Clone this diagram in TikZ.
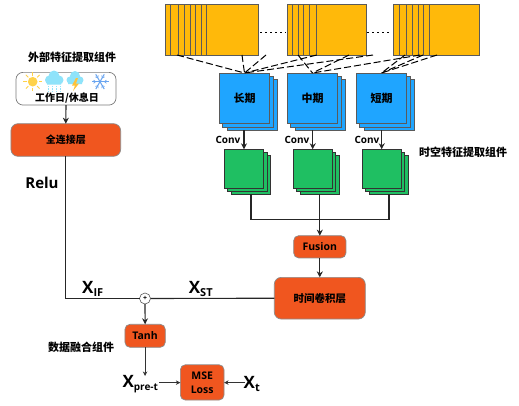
\documentclass[tikz,border=0pt]{standalone}
\usepackage{fontspec}
\setmainfont{Open Sans}
\newfontfamily\cjk{Noto Sans CJK SC}
\usetikzlibrary{arrows.meta}
\definecolor{yel}{HTML}{FFB90A}
\definecolor{blu}{HTML}{1FA5FF}
\definecolor{grn}{HTML}{1FBF62}
\definecolor{org}{HTML}{F0561F}
\definecolor{edge}{HTML}{5A5A5A}
\definecolor{cloudc}{HTML}{8FE3FA}
\definecolor{sunc}{HTML}{FFD24A}
\definecolor{snowc}{HTML}{6AA5F0}
\tikzset{
  yblock/.style={draw=edge,fill=yel,line width=.7pt,inner sep=0,outer sep=0},
  stripe/.style={draw=edge,line width=.7pt},
  card/.style={draw=edge,line width=.8pt,inner sep=0,outer sep=0,minimum width=#1,minimum height=#1,font=\cjk\bfseries\fontsize{11}{12}\selectfont},
  bluecard/.style={card=50.4pt,fill=blu},
  greencard/.style={draw=black!80,line width=.8pt,inner sep=0,outer sep=0,minimum width=39.3pt,minimum height=39pt,fill=grn},
  op/.style={draw=edge!70,fill=org,rounded corners=5pt,line width=.7pt,inner sep=0,outer sep=0,align=center,font=\bfseries\fontsize{10.5}{14}\selectfont},
  wire/.style={draw=black!85,line width=1.1pt},
  arrow/.style={wire,-{Stealth[length=6pt,width=6pt]}},
  thinarrow/.style={draw=black!80,line width=.8pt,-{Stealth[length=4.5pt,width=4.5pt]}},
  dashline/.style={draw=black,line width=1pt,dash pattern=on 7pt off 3pt},
  title/.style={font=\cjk\bfseries\fontsize{11}{12}\selectfont,inner sep=0},
  conv/.style={font=\bfseries\fontsize{10}{11}\selectfont,inner sep=0},
  bigx/.style={font=\bfseries\fontsize{17}{17}\selectfont,inner sep=0}
}
\begin{document}
\begin{tikzpicture}[x=1pt,y=-1pt]
\useasboundingbox (0,0) rectangle (519,405);
% yellow blocks
\node[yblock,minimum width=93pt,minimum height=51pt] (y1) at (211.5,29.5) {};
\foreach \s in {170.7,178.3,184.3,190.3,195.3,201,206.7} \draw[stripe] (\s,4) -- (\s,55);
\node[yblock,minimum width=79.4pt,minimum height=51pt] (y2) at (327,29.5) {};
\foreach \s in {292.3,298.3,303.7,309.3,316.3} \draw[stripe] (\s,4) -- (\s,55);
\node[yblock,minimum width=86.3pt,minimum height=51pt] (y3) at (436.2,29.5) {};
\foreach \s in {399.3,406.3,412.3,418,423.3,429.3} \draw[stripe] (\s,4) -- (\s,55);
\draw[line width=1pt,dash pattern=on 1.5pt off 3.5pt] (260,32) -- (286,32);
\draw[line width=1pt,dash pattern=on 1.5pt off 3.5pt] (367,32) -- (392,32);
% blue stacks
\foreach \n/\cx in {1/244.5,2/312.5,3/381.5}{
  \node[bluecard] (bb\n) at (\cx+8,105) {};
  \node[bluecard] (bm\n) at (\cx+3.5,102) {};
}
\node[bluecard] (b1) at (244.5,98.2) {长期};
\node[bluecard] (b2) at (312.5,98.2) {中期};
\node[bluecard] (b3) at (381.5,98.2) {短期};
% dashed fans
\foreach \n/\a/\t in {a/177/b1,b/242/b1,c/266/b1,d/316.7/b1,e/373/b1,f/298/b2,g/349/b2,h/420/b2,i/405/b3,j/423/b3,k/437/b3}{
  \coordinate (d\n) at (\a,55);
  \draw[dashline] (d\n) -- (\t.north);
}
% green stacks
\foreach \n/\cx in {1/244,2/312.7,3/381.7}{
  \node[greencard] (gb\n) at (\cx+7,174.8) {};
  \node[greencard] (gm\n) at (\cx+3.5,171.5) {};
}
\node[greencard] (g1) at (244,168.8) {};
\node[greencard] (g2) at (312.7,168.8) {};
\node[greencard] (g3) at (381.7,168.8) {};
% conv
\node[conv] at (228,140) {Conv};
\node[conv] at (297,140) {Conv};
\node[conv] at (367,140) {Conv};
\draw[arrow] (g1.north |- 0,130) -- (g1.north);
\draw[arrow] (g2.north |- 0,130) -- (g2.north);
\draw[arrow] (g3.north |- 0,130) -- (g3.north);
% fusion
\node[op,minimum width=52.3pt,minimum height=22.3pt] (fus) at (319.8,246.8) {Fusion};
\node[op,minimum width=91pt,minimum height=41.7pt,font=\cjk\bfseries\fontsize{10.5}{12}\selectfont,rounded corners=7pt] (tc) at (319.8,298.2) {时间卷积层};
\coordinate (j1) at (251,219.7);
\coordinate (j3) at (389,219.7);
\coordinate (j2) at (fus.north |- j1);
\draw[wire] (251,194.3) -- (j1) -- (j3) -- (389,194.3);
\draw[wire] (j2 |- gb2.south) -- (j2);
\draw[arrow] (j2) -- (fus.north);
\draw[arrow] (fus.south) -- (tc.north);
% external
\node[title] at (72,57) {外部特征提取组件};
\node[draw=edge!80,fill=white,rounded corners=7pt,line width=.7pt,inner sep=0,outer sep=0,minimum width=100pt,minimum height=32.7pt] (wx) at (66,88.7) {};
\node[font=\cjk\bfseries\fontsize{10}{11}\selectfont,inner sep=0] at (67,98.3) {工作日/休息日};
% sun
\fill[sunc] (32.7,81.7) circle (4.8pt);
\foreach \ang in {0,45,...,315} \draw[sunc,line width=.9pt] (32.7,81.7) ++(\ang:6.2pt) -- ++(\ang:3.5pt);
% rain cloud
\fill[cloudc] (49.5,80) circle (4.5pt) (54,76) circle (5.5pt) (59,80) circle (4.5pt) (47,80) rectangle (61,84.5);
\foreach \dx in {48,52,56,60} \draw[cloudc,line width=1pt,dash pattern=on 1.2pt off 1.2pt] (\dx,86) -- (\dx,92);
% storm cloud
\fill[cloudc] (70,80) circle (3.5pt) (75,76) circle (5pt) (80,80) circle (3.5pt) (68,80) rectangle (82,84);
\fill[sunc!80!orange] (76,78) -- (72,85.5) -- (75,85.5) -- (73,91) -- (79,83.5) -- (76,83.5) -- (78,78) -- cycle;
% snowflake
\foreach \ang in {0,60,120} {
  \draw[snowc,line width=1pt] (100,81.7) ++(\ang:8.5pt) -- ++(\ang+180:17pt);
  \draw[snowc,line width=.7pt] (100,81.7) ++(\ang:4.5pt) ++(\ang+40:2.5pt) -- ++(\ang+220:2.5pt) -- ++(\ang-40:2.5pt);
  \draw[snowc,line width=.7pt] (100,81.7) ++(\ang+180:4.5pt) ++(\ang+220:2.5pt) -- ++(\ang+40:2.5pt) -- ++(\ang+140:2.5pt);
}
% fc
\node[op,minimum width=109.7pt,minimum height=32.6pt,font=\cjk\bfseries\fontsize{10}{12}\selectfont,rounded corners=7pt] (fc) at (65.8,140) {全连接层};
\draw[arrow] (wx.south) -- (fc.north);
\node[font=\bfseries\fontsize{15}{16}\selectfont,inner sep=0] at (42,182.5) {Relu};
% plus
\node[circle,draw=edge,fill=white,line width=.6pt,minimum size=11pt,inner sep=0,outer sep=0,font=\bfseries\fontsize{7}{7}\selectfont] (pl) at (145,298.5) {+};
\coordinate (cnr) at (fc.south |- pl);
\draw[wire] (fc.south) -- (cnr) -- (pl.west);
\draw[wire] (tc.west) -- (pl.east);
\node[bigx] at (93,289) {X\textsubscript{\fontsize{11}{11}\selectfont IF}};
\node[bigx] at (201,289) {X\textsubscript{\fontsize{11}{11}\selectfont ST}};
% tanh
\node[op,minimum width=40.3pt,minimum height=23pt] (tanh) at (145.1,335.8) {Tanh};
\draw[arrow] (pl.south) -- (tanh.north);
\node[title] at (81,347) {数据融合组件};
\node[title] at (463,152) {时空特征提取组件};
% mse
\node[op,minimum width=43.7pt,minimum height=35.3pt] (mse) at (202.2,382.4) {MSE\\Loss};
\node[bigx,inner sep=0] (xp) at (140.5,384) {X\textsubscript{\fontsize{10}{10}\selectfont pre-t}};
\node[bigx,inner sep=0] (xt) at (252,384) {X\textsubscript{\fontsize{11}{11}\selectfont t}};
\draw[thinarrow] (tanh.south) -- (145.1,376);
\draw[thinarrow] (159,382.6) -- (mse.west |- 0,382.6);
\draw[thinarrow] (245,382.6) -- (mse.east |- 0,382.6);
\end{tikzpicture}
\end{document}
